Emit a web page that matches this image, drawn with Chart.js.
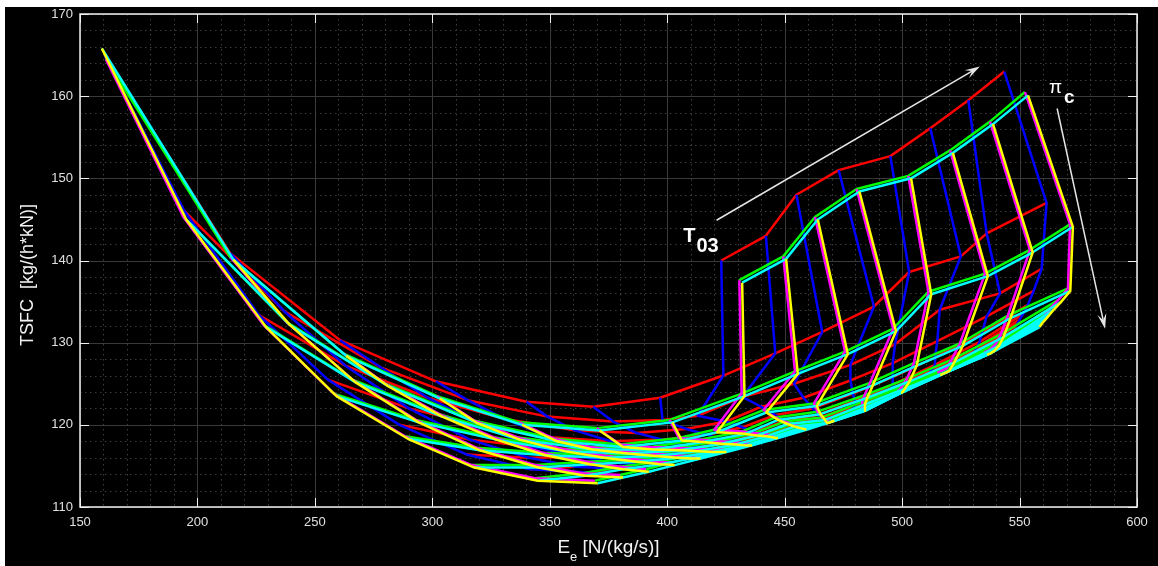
<!DOCTYPE html>
<html>
<head>
<meta charset="utf-8">
<script src="https://cdn.jsdelivr.net/npm/chart.js@4.4.1/dist/chart.umd.min.js"></script>
<style>
  html, body { margin: 0; padding: 0; background: #fff; }
  #wrap { position: absolute; left: 5px; top: 7px; width: 1153px; height: 559px; background: #000; }
</style>
</head>
<body>
<div id="wrap"><canvas id="carpet" width="1153" height="559"></canvas></div>
<script>
// axis ticks
const xTicks = [150, 200, 250, 300, 350, 400, 450, 500, 550, 600];
const yTicks = [110, 120, 130, 140, 150, 160, 170];

// carpet 1 (red rows = const pi_c, blue columns = const T03)
const eeRed = [
  [null, null, null, null, null, null, null, 423, 442, 455, 473, 495, 512, 528.2, 543.5],
  [160.6, 213.9, 260.7, 301.5, 340.1, 368.5, 397, 423.9, 446, 466, 488, 503, 525, 536, 561.5],
  [194.5, 237, 278, 315, 349, 377, 398, 413, 432, 454, 478, 497, 516, 541.7, 559.4],
  [226, 263, 298, 331, 361, 387, 408, 425, 440, 458, 478, 496, 515, 536, 556],
  [255.5, 290, 322, 350, 376, 398, 417, 432, 446, 462, 479, 496, 514, 534, 553.5],
  [286, 316, 343, 367, 389, 407, 423, 437, 450, 464, 480, 496, 514, 533, 551.5],
  [314.5, 341, 363, 382, 399, 414, 428, 440, 452, 465, 480, 495.5, 513, 532, 550],
  [341.5, 361, 377, 392, 405, 418, 430, 441, 453, 465, 479, 495, 512, 531, 549],
  [366.5, 377, 388, 399, 410, 421, 432, 443, 455, 467, 480, 495, 512, 531, 548.5]
];
const tsfcRed = [
  [null, null, null, null, null, null, null, 140, 143, 148, 151, 152.7, 156.1, 159.5, 163],
  [164.9, 140.9, 130.3, 125.3, 122.8, 122.2, 123.3, 126, 128.7, 131.3, 134.4, 138.6, 140.5, 143.3, 147],
  [146, 133.8, 127, 123, 121, 120.4, 120.6, 121.1, 123.4, 125, 127.3, 129.8, 134, 136, 139],
  [133.4, 127.2, 123.3, 120.7, 119.3, 119, 119.5, 120.4, 122.2, 123.3, 125.4, 127.5, 130.2, 133.2, 136.3],
  [125.5, 122, 119.8, 118.5, 118, 118.2, 118.8, 119.7, 121.2, 122, 123.8, 125.8, 128.2, 131.2, 134.6],
  [120, 118.2, 117.3, 116.9, 116.9, 117.4, 118.1, 119.1, 120.5, 121.2, 122.9, 124.9, 127.3, 130.1, 133.5],
  [116.4, 116, 116.1, 116.3, 116.7, 117.3, 118.1, 119, 120.1, 120.9, 122.4, 124.4, 126.8, 129.5, 132.8],
  [114.6, 114.9, 115.4, 115.9, 116.5, 117.2, 118, 118.8, 119.9, 120.8, 122.2, 124.2, 126.5, 129.1, 132.3],
  [114.2, 114.7, 115.2, 115.8, 116.5, 117.2, 118, 118.8, 119.8, 120.9, 122.2, 124.2, 126.4, 129, 132]
];

// carpet 2 (green rows, magenta columns)
const eeGreen = [
  [null, null, null, null, null, null, null, 430.7, 449.4, 462.9, 480.6, 502.6, 520.4, 537.4, 552.3],
  [161, 214, 262, 302, 337, 370, 401, 431.7, 454.4, 475.7, 496.2, 511.2, 535.3, 554.4, 571.5],
  [194, 238, 280, 318, 352, 380, 405, 420, 441, 462.5, 486.3, 505, 524.6, 545, 570.6],
  [228, 266, 303, 336, 367, 393, 414, 432, 446, 464, 484, 502, 521, 542, 566.5],
  [258, 293, 326, 355, 382, 404, 422, 437, 450, 466, 483, 500, 519, 540, 563.5],
  [288.4, 319, 347, 372, 394, 412, 428, 441, 453, 467, 483, 499, 517, 538, 561.5],
  [316.7, 344, 366, 386, 403, 418, 432, 443.5, 455.5, 468, 483, 498.5, 516, 536.5, 560],
  [343.7, 364, 380, 396, 409, 422, 434, 445, 457, 469, 483, 498.3, 515.5, 535.5, 558.7],
  [369.2, 380, 391, 402, 413, 424, 435, 446, 458, 470, 483, 498, 515, 535, 557.5]
];
const tsfcGreen = [
  [null, null, null, null, null, null, null, 137.6, 140.5, 145.3, 148.7, 150.3, 153.4, 156.9, 160.5],
  [164.5, 140.4, 128.7, 123.5, 120.3, 119.6, 120.6, 123.8, 126.5, 128.9, 131.7, 136.2, 138.4, 141.3, 144.4],
  [145.3, 132.5, 125, 120.5, 118.3, 117.6, 118.4, 119.4, 121.8, 122.6, 125.1, 127.5, 129.9, 133.3, 136.6],
  [132.2, 125.5, 121.3, 118.5, 117.3, 117.3, 118.2, 119.2, 120.9, 121.6, 123.6, 125.6, 127.9, 131, 135.2],
  [123.8, 120.6, 118.5, 117.1, 116.8, 117.2, 118, 119, 120.4, 120.9, 122.8, 124.7, 126.9, 129.9, 134.3],
  [118.6, 117.2, 116.6, 116.3, 116.5, 117.1, 117.9, 118.9, 120.1, 120.5, 122.4, 124.3, 126.6, 129.3, 133.6],
  [115.1, 115.1, 115.5, 115.8, 116.3, 117, 117.8, 118.8, 119.9, 120.6, 122.1, 124.2, 126.5, 129, 133.1],
  [113.5, 114.1, 114.9, 115.5, 116.2, 117, 117.8, 118.7, 119.8, 120.7, 122, 124.2, 126.4, 128.9, 132.7],
  [113.2, 113.9, 114.6, 115.4, 116.2, 117, 117.8, 118.7, 119.7, 120.8, 122, 124.2, 126.4, 128.8, 132.2]
];

// carpet 3 (cyan rows, yellow columns)
const eeCyan = [
  [null, null, null, null, null, null, null, 431.9, 450.6, 464.1, 481.8, 503.8, 521.6, 538.7, 553.6],
  [159.3, 215.3, 263.3, 303.2, 338.2, 371.2, 402.2, 432.9, 455.6, 476.9, 497.4, 512.4, 536.5, 555.6, 572.7],
  [195.2, 239.2, 281.2, 319.2, 353.2, 381.2, 406.2, 421.2, 442.2, 463.7, 487.5, 506.2, 525.8, 546.2, 571.6],
  [229.2, 267.2, 304.2, 337.2, 368.2, 394.2, 415.2, 433.2, 447.2, 465.2, 485.2, 503.2, 522.2, 543.2, 567.5],
  [259.2, 294.2, 327.2, 356.2, 383.2, 405.2, 423.2, 438.2, 451.2, 467.2, 484.2, 501.2, 520.2, 541.2, 564.5],
  [289.6, 320.2, 348.2, 373.2, 395.2, 413.2, 429.2, 442.2, 454.2, 468.2, 484.2, 500.2, 518.2, 539.2, 562.5],
  [317.9, 345.2, 367.2, 387.2, 404.2, 419.2, 433.2, 444.7, 456.7, 469.2, 484.2, 499.7, 517.2, 537.7, 561],
  [344.9, 365.2, 381.2, 397.2, 410.2, 423.2, 435.2, 446.2, 458.2, 470.2, 484.2, 499.5, 516.7, 536.7, 559.7],
  [370.4, 381.2, 392.2, 403.2, 414.2, 425.2, 436.2, 447.2, 459.2, 471.2, 484.2, 499.2, 516.2, 536.2, 558.5]
];
const tsfcCyan = [
  [null, null, null, null, null, null, null, 137.3, 140.2, 145, 148.4, 150, 153.1, 156.6, 160.1],
  [165.8, 140.1, 128.4, 123.2, 120, 119.3, 120.3, 123.5, 126.2, 128.6, 131.4, 135.9, 138.1, 141, 144.1],
  [145, 132.2, 124.7, 120.2, 118, 117.3, 118.1, 119.1, 121.5, 122.3, 124.8, 127.2, 129.6, 133, 136.3],
  [131.9, 125.2, 121, 118.2, 117, 117, 117.9, 118.9, 120.6, 121.3, 123.3, 125.3, 127.6, 130.7, 134.9],
  [123.5, 120.3, 118.2, 116.8, 116.5, 116.9, 117.7, 118.7, 120.1, 120.6, 122.5, 124.4, 126.6, 129.6, 134],
  [118.3, 116.9, 116.3, 116, 116.2, 116.8, 117.6, 118.6, 119.8, 120.2, 122.1, 124, 126.3, 129, 133.3],
  [114.8, 114.8, 115.2, 115.5, 116, 116.7, 117.5, 118.5, 119.6, 120.3, 121.8, 123.9, 126.2, 128.7, 132.8],
  [113.2, 113.8, 114.6, 115.2, 115.9, 116.7, 117.5, 118.4, 119.5, 120.4, 121.7, 123.9, 126.1, 128.6, 132.4],
  [112.9, 113.6, 114.3, 115.1, 115.9, 116.7, 117.5, 118.4, 119.4, 120.5, 121.7, 123.9, 126.1, 128.5, 131.9]
];

// annotation anchors, in data units
const t03Label = { x: 406.8, y: 142.2 };
const t03Arrow = [[421.0, 144.9], [533.1, 163.6]];
const picLabel = { x: 562.5, y: 160.35 };
const picArrow = [[566.0, 158.5], [586.4, 131.7]];

const FONT = "'Liberation Sans', Arial, Helvetica, sans-serif";

// one line per row and one per column of a carpet
function carpetLines(ee, tsfc, rowColor, colColor, order) {
  const sets = [];
  const line = (pts, color, ord) => ({
    data: pts, borderColor: color, borderWidth: 2.5, showLine: true,
    pointRadius: 0, fill: false, tension: 0, borderJoinStyle: 'round', order: ord
  });
  ee.forEach((row, i) => {
    const pts = [];
    row.forEach((x, j) => { if (x !== null) pts.push({ x, y: tsfc[i][j] }); });
    sets.push(line(pts, rowColor, order));
  });
  for (let j = 0; j < ee[0].length; j++) {
    const pts = [];
    ee.forEach((row, i) => { if (row[j] !== null) pts.push({ x: row[j], y: tsfc[i][j] }); });
    sets.push(line(pts, colColor, order - 0.5));
  }
  return sets;
}

function arrow(ctx, x0, y0, x1, y1) {
  const ang = Math.atan2(y1 - y0, x1 - x0);
  const len = 15, half = 4.5;
  ctx.beginPath();
  ctx.moveTo(x0, y0);
  ctx.lineTo(x1 - Math.cos(ang) * len * 0.6, y1 - Math.sin(ang) * len * 0.6);
  ctx.stroke();
  ctx.beginPath();
  ctx.moveTo(x1, y1);
  ctx.lineTo(x1 - Math.cos(ang) * len + Math.sin(ang) * half, y1 - Math.sin(ang) * len - Math.cos(ang) * half);
  ctx.lineTo(x1 - Math.cos(ang) * len * 0.6, y1 - Math.sin(ang) * len * 0.6);
  ctx.lineTo(x1 - Math.cos(ang) * len - Math.sin(ang) * half, y1 - Math.sin(ang) * len + Math.cos(ang) * half);
  ctx.closePath();
  ctx.fill();
}

// matlab style grid, box, inward ticks, labels and arrows
const matlabAxes = {
  id: 'matlabAxes',
  beforeDatasetsDraw(chart) {
    const { ctx, chartArea: a, scales: { x, y } } = chart;
    ctx.save();
    ctx.lineWidth = 1;
    ctx.strokeStyle = '#3d3d3d';
    ctx.setLineDash([1.5, 3.5]);
    for (let v = 150; v <= 600; v += 10) {
      if (v % 50 === 0) continue;
      const px = Math.round(x.getPixelForValue(v)) + 0.5;
      ctx.beginPath(); ctx.moveTo(px, a.top); ctx.lineTo(px, a.bottom); ctx.stroke();
    }
    for (let v = 110; v <= 170; v += 2) {
      if (v % 10 === 0) continue;
      const py = Math.round(y.getPixelForValue(v)) + 0.5;
      ctx.beginPath(); ctx.moveTo(a.left, py); ctx.lineTo(a.right, py); ctx.stroke();
    }
    ctx.setLineDash([]);
    ctx.strokeStyle = '#3a3a3a';
    xTicks.forEach(v => {
      const px = Math.round(x.getPixelForValue(v)) + 0.5;
      ctx.beginPath(); ctx.moveTo(px, a.top); ctx.lineTo(px, a.bottom); ctx.stroke();
    });
    yTicks.forEach(v => {
      const py = Math.round(y.getPixelForValue(v)) + 0.5;
      ctx.beginPath(); ctx.moveTo(a.left, py); ctx.lineTo(a.right, py); ctx.stroke();
    });
    ctx.restore();
  },
  afterDatasetsDraw(chart) {
    const { ctx, chartArea: a, scales: { x, y } } = chart;
    ctx.save();
    // box and ticks
    ctx.strokeStyle = '#f0f0f0';
    ctx.lineWidth = 1.5;
    ctx.strokeRect(a.left, a.top, a.right - a.left, a.bottom - a.top);
    ctx.lineWidth = 1;
    const tl = 9;
    xTicks.forEach(v => {
      const px = Math.round(x.getPixelForValue(v)) + 0.5;
      ctx.beginPath();
      ctx.moveTo(px, a.bottom); ctx.lineTo(px, a.bottom - tl);
      ctx.moveTo(px, a.top); ctx.lineTo(px, a.top + tl);
      ctx.stroke();
    });
    yTicks.forEach(v => {
      const py = Math.round(y.getPixelForValue(v)) + 0.5;
      ctx.beginPath();
      ctx.moveTo(a.left, py); ctx.lineTo(a.left + tl, py);
      ctx.moveTo(a.right, py); ctx.lineTo(a.right - tl, py);
      ctx.stroke();
    });

    // T03 and pi_c arrows
    ctx.strokeStyle = '#e6e6e6';
    ctx.fillStyle = '#e6e6e6';
    ctx.lineWidth = 1.5;
    arrow(ctx, x.getPixelForValue(t03Arrow[0][0]), y.getPixelForValue(t03Arrow[0][1]),
      x.getPixelForValue(t03Arrow[1][0]), y.getPixelForValue(t03Arrow[1][1]));
    arrow(ctx, x.getPixelForValue(picArrow[0][0]), y.getPixelForValue(picArrow[0][1]),
      x.getPixelForValue(picArrow[1][0]), y.getPixelForValue(picArrow[1][1]));

    ctx.fillStyle = '#ffffff';
    ctx.textBaseline = 'alphabetic';
    ctx.textAlign = 'left';
    let tx = x.getPixelForValue(t03Label.x), ty = y.getPixelForValue(t03Label.y);
    ctx.font = 'bold 20px ' + FONT;
    ctx.fillText('T', tx, ty);
    tx += ctx.measureText('T').width + 1;
    ctx.fillText('03', tx, ty + 10);

    let px = x.getPixelForValue(picLabel.x), py = y.getPixelForValue(picLabel.y);
    ctx.font = '19px ' + FONT;
    ctx.fillText('\u03c0', px, py);
    px += ctx.measureText('\u03c0').width + 2;
    ctx.font = 'bold 19px ' + FONT;
    ctx.fillText('c', px, py + 10);

    // axis titles
    ctx.fillStyle = '#f2f2f2';
    const main = '19px ' + FONT, sub = '13px ' + FONT;
    ctx.font = main; const wE = ctx.measureText('E').width;
    const wRest = ctx.measureText(' [N/(kg/s)]').width;
    ctx.font = sub; const wSub = ctx.measureText('e').width;
    const total = wE + wSub + wRest;
    let cx = (a.left + a.right) / 2 - total / 2;
    const base = 546;
    ctx.font = main; ctx.fillText('E', cx, base); cx += wE;
    ctx.font = sub; ctx.fillText('e', cx, base + 8); cx += wSub;
    ctx.font = main; ctx.fillText(' [N/(kg/s)]', cx, base);

    ctx.translate(28, 268);
    ctx.rotate(-Math.PI / 2);
    ctx.textAlign = 'center';
    ctx.font = '18px ' + FONT;
    ctx.fillText('TSFC  [kg/(h*kN)]', 0, 0);
    ctx.restore();
  }
};

const datasets = [
  ...carpetLines(eeRed, tsfcRed, '#ff0000', '#0000ff', 6),
  ...carpetLines(eeGreen, tsfcGreen, '#00ff00', '#ff00ff', 4),
  ...carpetLines(eeCyan, tsfcCyan, '#00ffff', '#ffff00', 2)
];

// keep the plot box fixed, no extra room for overhanging tick labels
const noOverhang = s => {
  s.paddingTop = 0; s.paddingBottom = 0; s.paddingLeft = 0; s.paddingRight = 0;
};

new Chart(document.getElementById('carpet'), {
  type: 'scatter',
  data: { datasets },
  options: {
    responsive: false,
    animation: false,
    devicePixelRatio: 1,
    layout: { padding: { left: 0, top: 7, right: 21, bottom: 0 } },
    plugins: { legend: { display: false }, tooltip: { enabled: false } },
    scales: {
      x: {
        type: 'linear', min: 150, max: 600,
        afterBuildTicks: s => { s.ticks = xTicks.map(v => ({ value: v })); },
        afterFit: s => { s.height = 59; noOverhang(s); },
        grid: { display: false, drawTicks: false },
        border: { display: false },
        ticks: { color: '#e0e0e0', padding: 8, autoSkip: false, maxRotation: 0, font: { size: 13, family: FONT } }
      },
      y: {
        type: 'linear', min: 110, max: 170,
        afterBuildTicks: s => { s.ticks = yTicks.map(v => ({ value: v })); },
        afterFit: s => { s.width = 75; noOverhang(s); },
        grid: { display: false, drawTicks: false },
        border: { display: false },
        ticks: { color: '#e0e0e0', padding: 7, autoSkip: false, font: { size: 13, family: FONT } }
      }
    }
  },
  plugins: [matlabAxes]
});
</script>
</body>
</html>
